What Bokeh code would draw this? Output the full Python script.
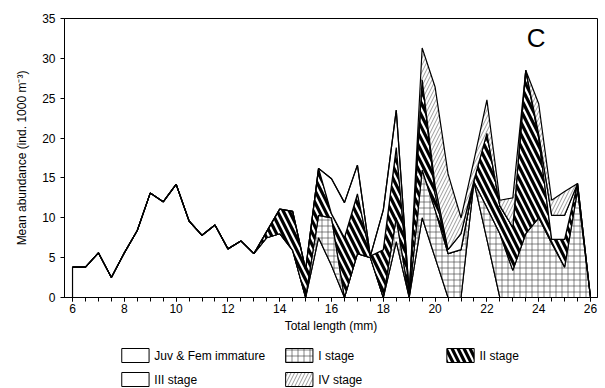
import numpy as np
from bokeh.plotting import figure
from bokeh.models import Range1d, SingleIntervalTicker, Label
from bokeh.layouts import column
from bokeh.core.properties import value
from bokeh.embed import file_html
from bokeh.resources import INLINE

# ---- data ----
length_mm = [6.0, 6.5, 7.0, 7.5, 8.0, 8.5, 9.0, 9.5, 10.0, 10.5, 11.0, 11.5, 12.0, 12.5,
             13.0, 13.5, 14.0, 14.5, 15.0, 15.5, 16.0, 16.5, 17.0, 17.5, 18.0, 18.5, 19.0,
             19.5, 20.0, 20.5, 21.0, 21.5, 22.0, 22.5, 23.0, 23.5, 24.0, 24.5, 25.0, 25.5, 26.0]
juv_fem = [3.8, 3.8, 5.6, 2.5, 5.6, 8.4, 13.1, 12.0, 14.2, 9.6, 7.8, 9.1, 6.1, 7.1,
           5.5, 7.5, 8.0, 5.9, 0.0, 7.5, 4.0, 0.0, 5.5, 5.0, 0.0, 7.0, 0.0,
           10.0, 5.0, 0.0, 0.0, 14.5, 7.3, 0.0, 0.0, 0.0, 0.0, 0.0, 0.0, 0.0, 0.0]
stage_1 = [0, 0, 0, 0, 0, 0, 0, 0, 0, 0, 0, 0, 0, 0,
           0, 0, 0, 0, 0, 2.8, 6.0, 0, 0, 0, 0, 3.0, 0,
           6.0, 6.0, 5.5, 6.0, 0.0, 4.0, 8.0, 3.4, 8.0, 10.0, 6.8, 3.8, 13.5, 0]
stage_2 = [0, 0, 0, 0, 0, 0, 0, 0, 0, 0, 0, 0, 0, 0,
           0, 0.8, 3.1, 4.9, 3.5, 5.9, 0.5, 7.5, 7.5, 0.2, 6.0, 8.8, 0.5,
           11.3, 2.0, 0.0, 0.0, 0.2, 9.3, 3.5, 5.4, 20.5, 10.0, 0.5, 3.5, 0.8, 0]
stage_3 = [0, 0, 0, 0, 0, 0, 0, 0, 0, 0, 0, 0, 0, 0,
           0, 0, 0, 0, 0, 0, 4.4, 4.4, 3.6, 0, 5.0, 4.7, 0,
           0, 1.0, 0.5, 2.0, 0, 0, 0, 0, 0, 0.5, 3.0, 3.0, 0, 0]
stage_4 = [0, 0, 0, 0, 0, 0, 0, 0, 0, 0, 0, 0, 0, 0,
           0, 0, 0, 0, 0, 0, 0, 0, 0, 0, 0, 0, 0,
           4.0, 12.4, 9.5, 2.0, 2.5, 4.2, 0.7, 3.7, 0, 3.8, 1.9, 3.0, 0, 0]
series_names = ["Juv & Fem immature", "I stage", "II stage", "III stage", "IV stage"]
x_tick_step = 2
y_tick_step = 5

FONT = "Liberation Sans"

styles = [
    dict(fill_color="white"),
    dict(fill_color="white", hatch_pattern="+", hatch_color="#333333", hatch_weight=0.6, hatch_scale=6),
    dict(fill_color="white", hatch_pattern="\\", hatch_color="black", hatch_weight=3.2, hatch_scale=12),
    dict(fill_color="white"),
    dict(fill_color="white", hatch_pattern="/", hatch_color="#555555", hatch_weight=0.6, hatch_scale=7),
]

layers = [juv_fem, stage_1, stage_2, stage_3, stage_4]

p = figure(width=605, height=340, output_backend="svg", toolbar_location=None,
           x_range=Range1d(5.69, 26.27), y_range=Range1d(0, 35),
           min_border_left=64, min_border_right=8, min_border_top=18, min_border_bottom=43)
p.background_fill_color = "white"
p.border_fill_color = "white"
p.grid.visible = False
p.outline_line_color = "black"
p.outline_line_width = 1

x = np.array(length_mm)
lower = np.zeros_like(x)
for vals, st in zip(layers, styles):
    upper = lower + np.array(vals, dtype=float)
    xs = list(x) + list(x[::-1])
    ys = list(upper) + list(lower[::-1])
    p.patch(xs, ys, line_color="black", line_width=1.2, **st)
    lower = upper

p.xaxis.ticker = SingleIntervalTicker(interval=x_tick_step, num_minor_ticks=4)
p.yaxis.ticker = SingleIntervalTicker(interval=y_tick_step, num_minor_ticks=0)
for ax in (p.xaxis[0], p.yaxis[0]):
    ax.major_tick_in = 0
    ax.major_tick_out = 4
    ax.minor_tick_in = 0
    ax.minor_tick_out = 4
    ax.axis_line_color = "black"
    ax.major_tick_line_color = "black"
    ax.minor_tick_line_color = "black"
    ax.major_label_text_font = FONT
    ax.major_label_text_font_size = "12px"
    ax.major_label_text_color = "black"
    ax.axis_label_text_font = FONT
    ax.axis_label_text_font_size = "12px"
    ax.axis_label_text_font_style = "normal"
    ax.axis_label_text_color = "black"
p.yaxis.minor_tick_line_color = None
p.xaxis.axis_label = "Total length (mm)"
p.yaxis.axis_label = "Mean abundance (ind. 1000 m\u207b\u00b3)"
p.xaxis.axis_label_standoff = 3
p.yaxis.axis_label_standoff = 10
p.xaxis.major_label_standoff = 2

p.add_layout(Label(x=23.9, y=32.6, text="C", text_font=FONT, text_font_size="26px",
                   text_align="center", text_baseline="middle", text_color="black"))

# ---- legend panel ----
leg = figure(width=605, height=48, output_backend="svg", toolbar_location=None,
             x_range=Range1d(0, 605), y_range=Range1d(48, 0),
             min_border_left=0, min_border_right=0, min_border_top=0, min_border_bottom=0)
leg.axis.visible = False
leg.grid.visible = False
leg.outline_line_color = None
leg.background_fill_color = "white"
leg.border_fill_color = "white"

box_left = [65, 251, 434, 65, 251]
row_y = [15, 15, 15, 39, 39]
for name, st, bl, ry in zip(series_names, styles, box_left, row_y):
    leg.quad(left=bl, right=bl + 31, top=ry - 7, bottom=ry + 7, line_color="black", line_width=1, **st)
    leg.text(x=[bl + 37], y=[ry], text=[name], text_font=value(FONT), text_font_size="12px",
             text_baseline="middle", text_align="left", text_color="black")

layout = column(p, leg, spacing=0)
open("out.html", "w").write(file_html(layout, INLINE))
